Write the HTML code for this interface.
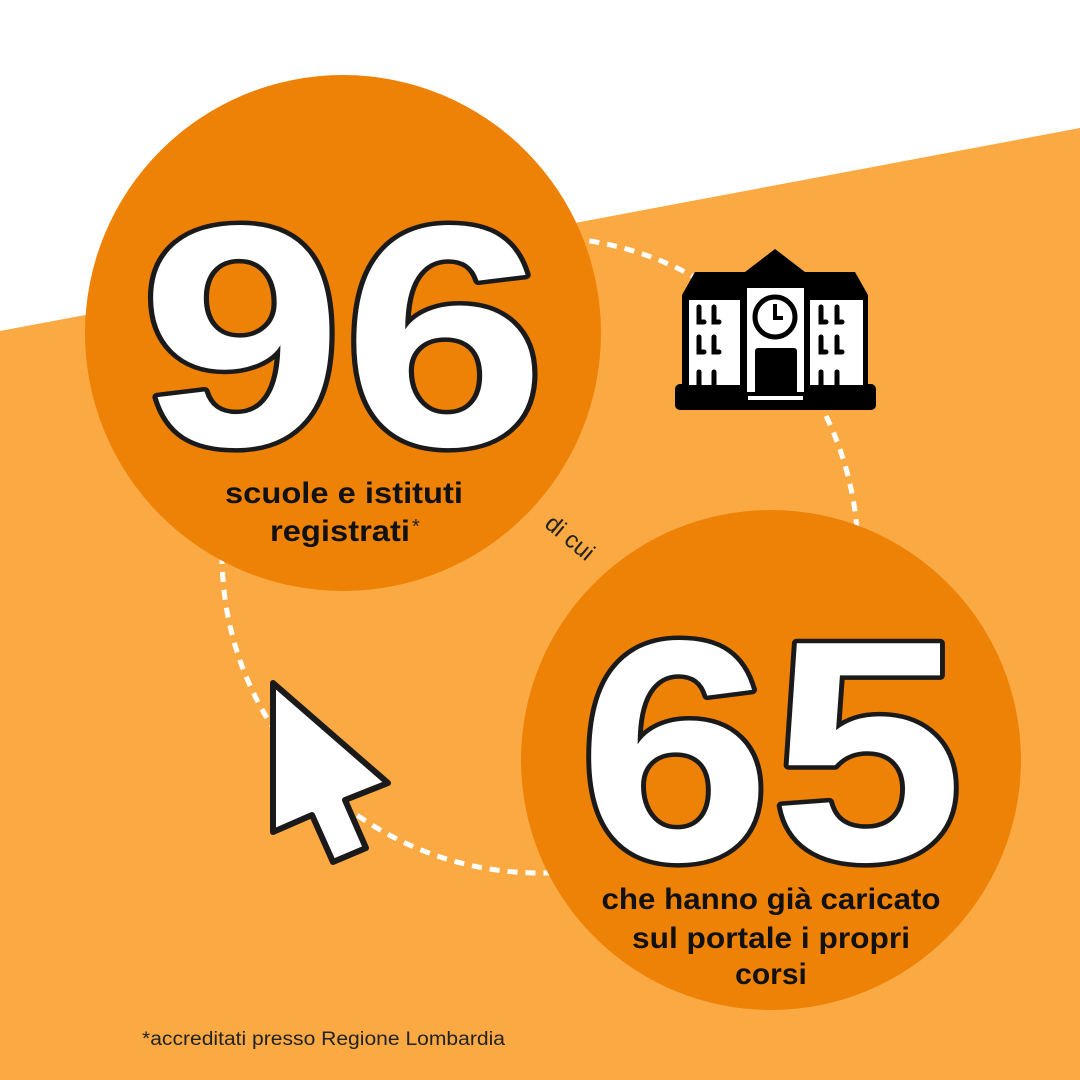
<!DOCTYPE html>
<html><head><meta charset="utf-8"><style>
html,body{margin:0;padding:0;width:1080px;height:1080px;overflow:hidden;background:#fff}
</style></head><body>
<svg width="1080" height="1080" viewBox="0 0 1080 1080" xmlns="http://www.w3.org/2000/svg" style="display:block">
<polygon points="0,331 1080,128 1080,1080 0,1080" fill="#FBA943"/>
<circle cx="540" cy="555" r="318" fill="none" stroke="#fff" stroke-width="5" stroke-dasharray="10 8"/>
<circle cx="343" cy="333" r="258" fill="#EE8207"/>
<circle cx="771" cy="760" r="250" fill="#EE8207"/>
<g font-family="Liberation Sans, sans-serif" font-weight="bold" fill="#fff" stroke="#1a1a1a" stroke-width="9" paint-order="stroke" stroke-linejoin="round">
<text x="343" y="445" font-size="315" text-anchor="middle" textLength="405" lengthAdjust="spacingAndGlyphs">96</text>
<text x="771" y="860" font-size="315" text-anchor="middle" textLength="385" lengthAdjust="spacingAndGlyphs">65</text>
</g>
<g font-family="Liberation Sans, sans-serif" font-weight="bold" fill="#111" font-size="30" text-anchor="middle">
<text x="344" y="503" textLength="238" lengthAdjust="spacingAndGlyphs">scuole e istituti</text>
<text x="340" y="541" textLength="140" lengthAdjust="spacingAndGlyphs">registrati</text>
<text x="771" y="909" textLength="339" lengthAdjust="spacingAndGlyphs">che hanno già caricato</text>
<text x="771" y="948" textLength="278" lengthAdjust="spacingAndGlyphs">sul portale i propri</text>
<text x="771" y="984">corsi</text>
</g>
<text x="412" y="533" font-family="Liberation Sans, sans-serif" font-size="20" fill="#222">*</text>
<text x="568" y="545" font-family="Liberation Sans, sans-serif" font-size="24" fill="#222" text-anchor="middle" transform="rotate(40 568 540)">di cui</text>
<text x="142" y="1045" font-family="Liberation Sans, sans-serif" font-size="19" fill="#222" textLength="363" lengthAdjust="spacingAndGlyphs">*accreditati presso Regione Lombardia</text>
<g>
<polygon points="775,249 805,272 855,272 868,295 868,385 682,385 682,295 695,272 745,272" fill="#000"/>
<rect x="675" y="384" width="201" height="26" rx="5" fill="#000"/>
<rect x="689" y="300" width="51" height="85" fill="#fff"/>
<rect x="810" y="300" width="53" height="85" fill="#fff"/>
<rect x="747" y="288" width="57" height="112" fill="#fff"/>
<rect x="747" y="392" width="57" height="12" fill="#000"/>
<rect x="748" y="396" width="55" height="4" fill="#fff"/>
<circle cx="775" cy="317" r="20" fill="#fff" stroke="#000" stroke-width="5"/>
<path d="M775,304 V318 H783" stroke="#000" stroke-width="4" fill="none"/>
<rect x="755" y="348" width="42" height="46" rx="3" fill="#000"/>
<g stroke="#000" stroke-width="5" fill="none" stroke-linecap="round">
<path d="M699,307 V322 H704 M714,307 V322 H719 M699,337 V352 H704 M714,337 V352 H719 M699,372 V385 M714,372 V385"/>
<path d="M821,307 V322 H826 M837,307 V322 H842 M821,337 V352 H826 M837,337 V352 H842 M821,372 V385 M837,372 V385"/>
</g>
</g>
<polygon points="273,683 388,783 345,800 366,848 333,862 312,815 273,832" fill="#fff" stroke="#1a1a1a" stroke-width="6" stroke-linejoin="round"/>
</svg>
</body></html>
